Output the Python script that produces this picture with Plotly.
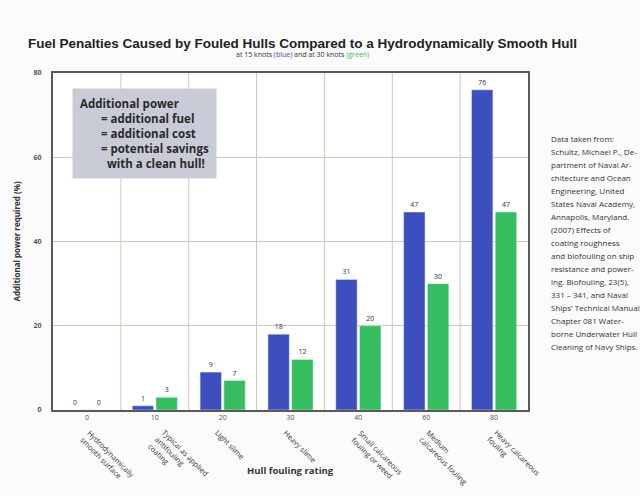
import plotly.graph_objects as go

# Hull fouling ratings and descriptions
ratings = ["0", "10", "20", "30", "40", "60", "80"]
descriptions = [
    "Hydrodynamically<br>smooth surface",
    "Typical as applied<br>antifouling<br>coating",
    "Light slime",
    "Heavy slime",
    "Small calcareous<br>fouling or weed",
    "Medium<br>calcareous fouling",
    "Heavy calcareous<br>fouling",
]
# Additional power required (%)
power_15kn = [0, 1, 9, 18, 31, 47, 76]
power_30kn = [0, 3, 7, 12, 20, 30, 47]
y_ticks = [0, 20, 40, 60, 80]

source_lines = [
    "Data taken from:", "Schultz, Michael P., De-", "partment of Naval Ar-",
    "chitecture and Ocean", "Engineering, United", "States Naval Academy,",
    "Annapolis, Maryland.", "(2007) Effects of", "coating roughness",
    "and biofouling on ship", "resistance and power-", "ing. Biofouling, 23(5),",
    "331 \u2013 341, and Naval", "Ships' Technical Manual", "Chapter 081 Water-",
    "borne Underwater Hull", "Cleaning of Navy Ships.",
]

BLUE = "#3d4fbd"
GREEN = "#36bd5f"
GRID = "#d6c4b6"
FONT = "Open Sans"

x = list(range(len(ratings)))

fig = go.Figure()
fig.add_trace(go.Bar(
    x=x, y=power_15kn, name="15 knots", marker_color=BLUE,
    text=[str(v) for v in power_15kn], textposition="outside",
    textfont=dict(size=7, color="#333", family=FONT), cliponaxis=False,
))
fig.add_trace(go.Bar(
    x=x, y=power_30kn, name="30 knots", marker_color=GREEN,
    text=[str(v) for v in power_30kn], textposition="outside",
    textfont=dict(size=7, color="#333", family=FONT), cliponaxis=False,
))

# vertical separators between rating groups
shapes = []
for i in x[:-1]:
    shapes.append(dict(type="line", xref="x", yref="paper", x0=i + 0.5, x1=i + 0.5,
                       y0=0, y1=1, line=dict(color=GRID, width=1), layer="below"))

ind = "\u00a0" * 7
annotations = [
    dict(text="<b>Fuel Penalties Caused by Fouled Hulls Compared to a Hydrodynamically Smooth Hull</b>",
         xref="paper", yref="paper", x=0.526, y=1, yshift=30, showarrow=False,
         font=dict(size=13.5, family="Liberation Sans", color="#222"), yanchor="middle"),
    dict(text="at 15 knots <span style='color:%s'>(blue)</span> and at 30 knots "
              "<span style='color:%s'>(green)</span>" % (BLUE, GREEN),
         xref="paper", yref="paper", x=0.526, y=1, yshift=19, showarrow=False,
         font=dict(size=7, family=FONT, color="#333"), yanchor="middle"),
    dict(text="<b>Additional power</b><br>"
              + ind + "= additional fuel<br>"
              + ind + "= additional cost<br>"
              + ind + "= potential savings<br>"
              + ind + "\u00a0\u00a0with a clean hull!",
         xref="paper", yref="paper", x=0.04, y=0.955, xanchor="left", yanchor="top",
         align="left", showarrow=False, bgcolor="#c9ccd6", borderpad=7,
         font=dict(size=11.5, family=FONT, color="#2a2a2a", weight="bold")),
    dict(text="<b>Hull fouling rating</b>", xref="paper", yref="paper", x=0.5, y=0,
         yshift=-60, showarrow=False, yanchor="middle",
         font=dict(size=9.5, family=FONT, color="#333")),
    dict(text="<b>Additional power required (%)</b>", xref="paper", yref="paper", x=0,
         xshift=-37, y=0.5, textangle=-90, showarrow=False, xanchor="center",
         font=dict(size=8, family=FONT, color="#333")),
]
for k, line in enumerate(source_lines):
    annotations.append(dict(
        text=line, xref="paper", yref="paper", x=1, xshift=21, y=0.808, yshift=7 - 13 * k,
        xanchor="left", yanchor="top", align="left", showarrow=False,
        font=dict(size=8, family=FONT, color="#333"),
    ))
for i, d in zip(x, descriptions):
    annotations.append(dict(
        text=d, xref="x", yref="paper", x=i, xshift=-12, y=0, yshift=-15,
        xanchor="left", yanchor="top", align="left", textangle=45, showarrow=False,
        font=dict(size=7.5, family=FONT, color="#333"),
    ))

fig.update_layout(
    width=640, height=496,
    margin=dict(l=53, r=112, t=73, b=86),
    paper_bgcolor="#fbfbfb", plot_bgcolor="white",
    barmode="group", bargap=0.3, bargroupgap=0.1,
    showlegend=False,
    shapes=shapes, annotations=annotations,
    xaxis=dict(
        tickvals=x, ticktext=ratings, range=[-0.5, len(x) - 0.5],
        showgrid=False, showline=True, mirror=True, linecolor="#5a5a5a", linewidth=2,
        tickfont=dict(size=7, family=FONT, color="#555"), ticks="", tickangle=0,
    ),
    yaxis=dict(
        range=[0, 80], tickvals=y_ticks, ticktext=[str(v) for v in y_ticks],
        showgrid=True, gridcolor=GRID, gridwidth=1, zeroline=False,
        showline=True, mirror=True, linecolor="#5a5a5a", linewidth=2,
        tickfont=dict(size=7, family=FONT, color="#555", weight="bold"),
        ticks="", ticklabelstandoff=8,
    ),
)

fig.write_html("out.html")
